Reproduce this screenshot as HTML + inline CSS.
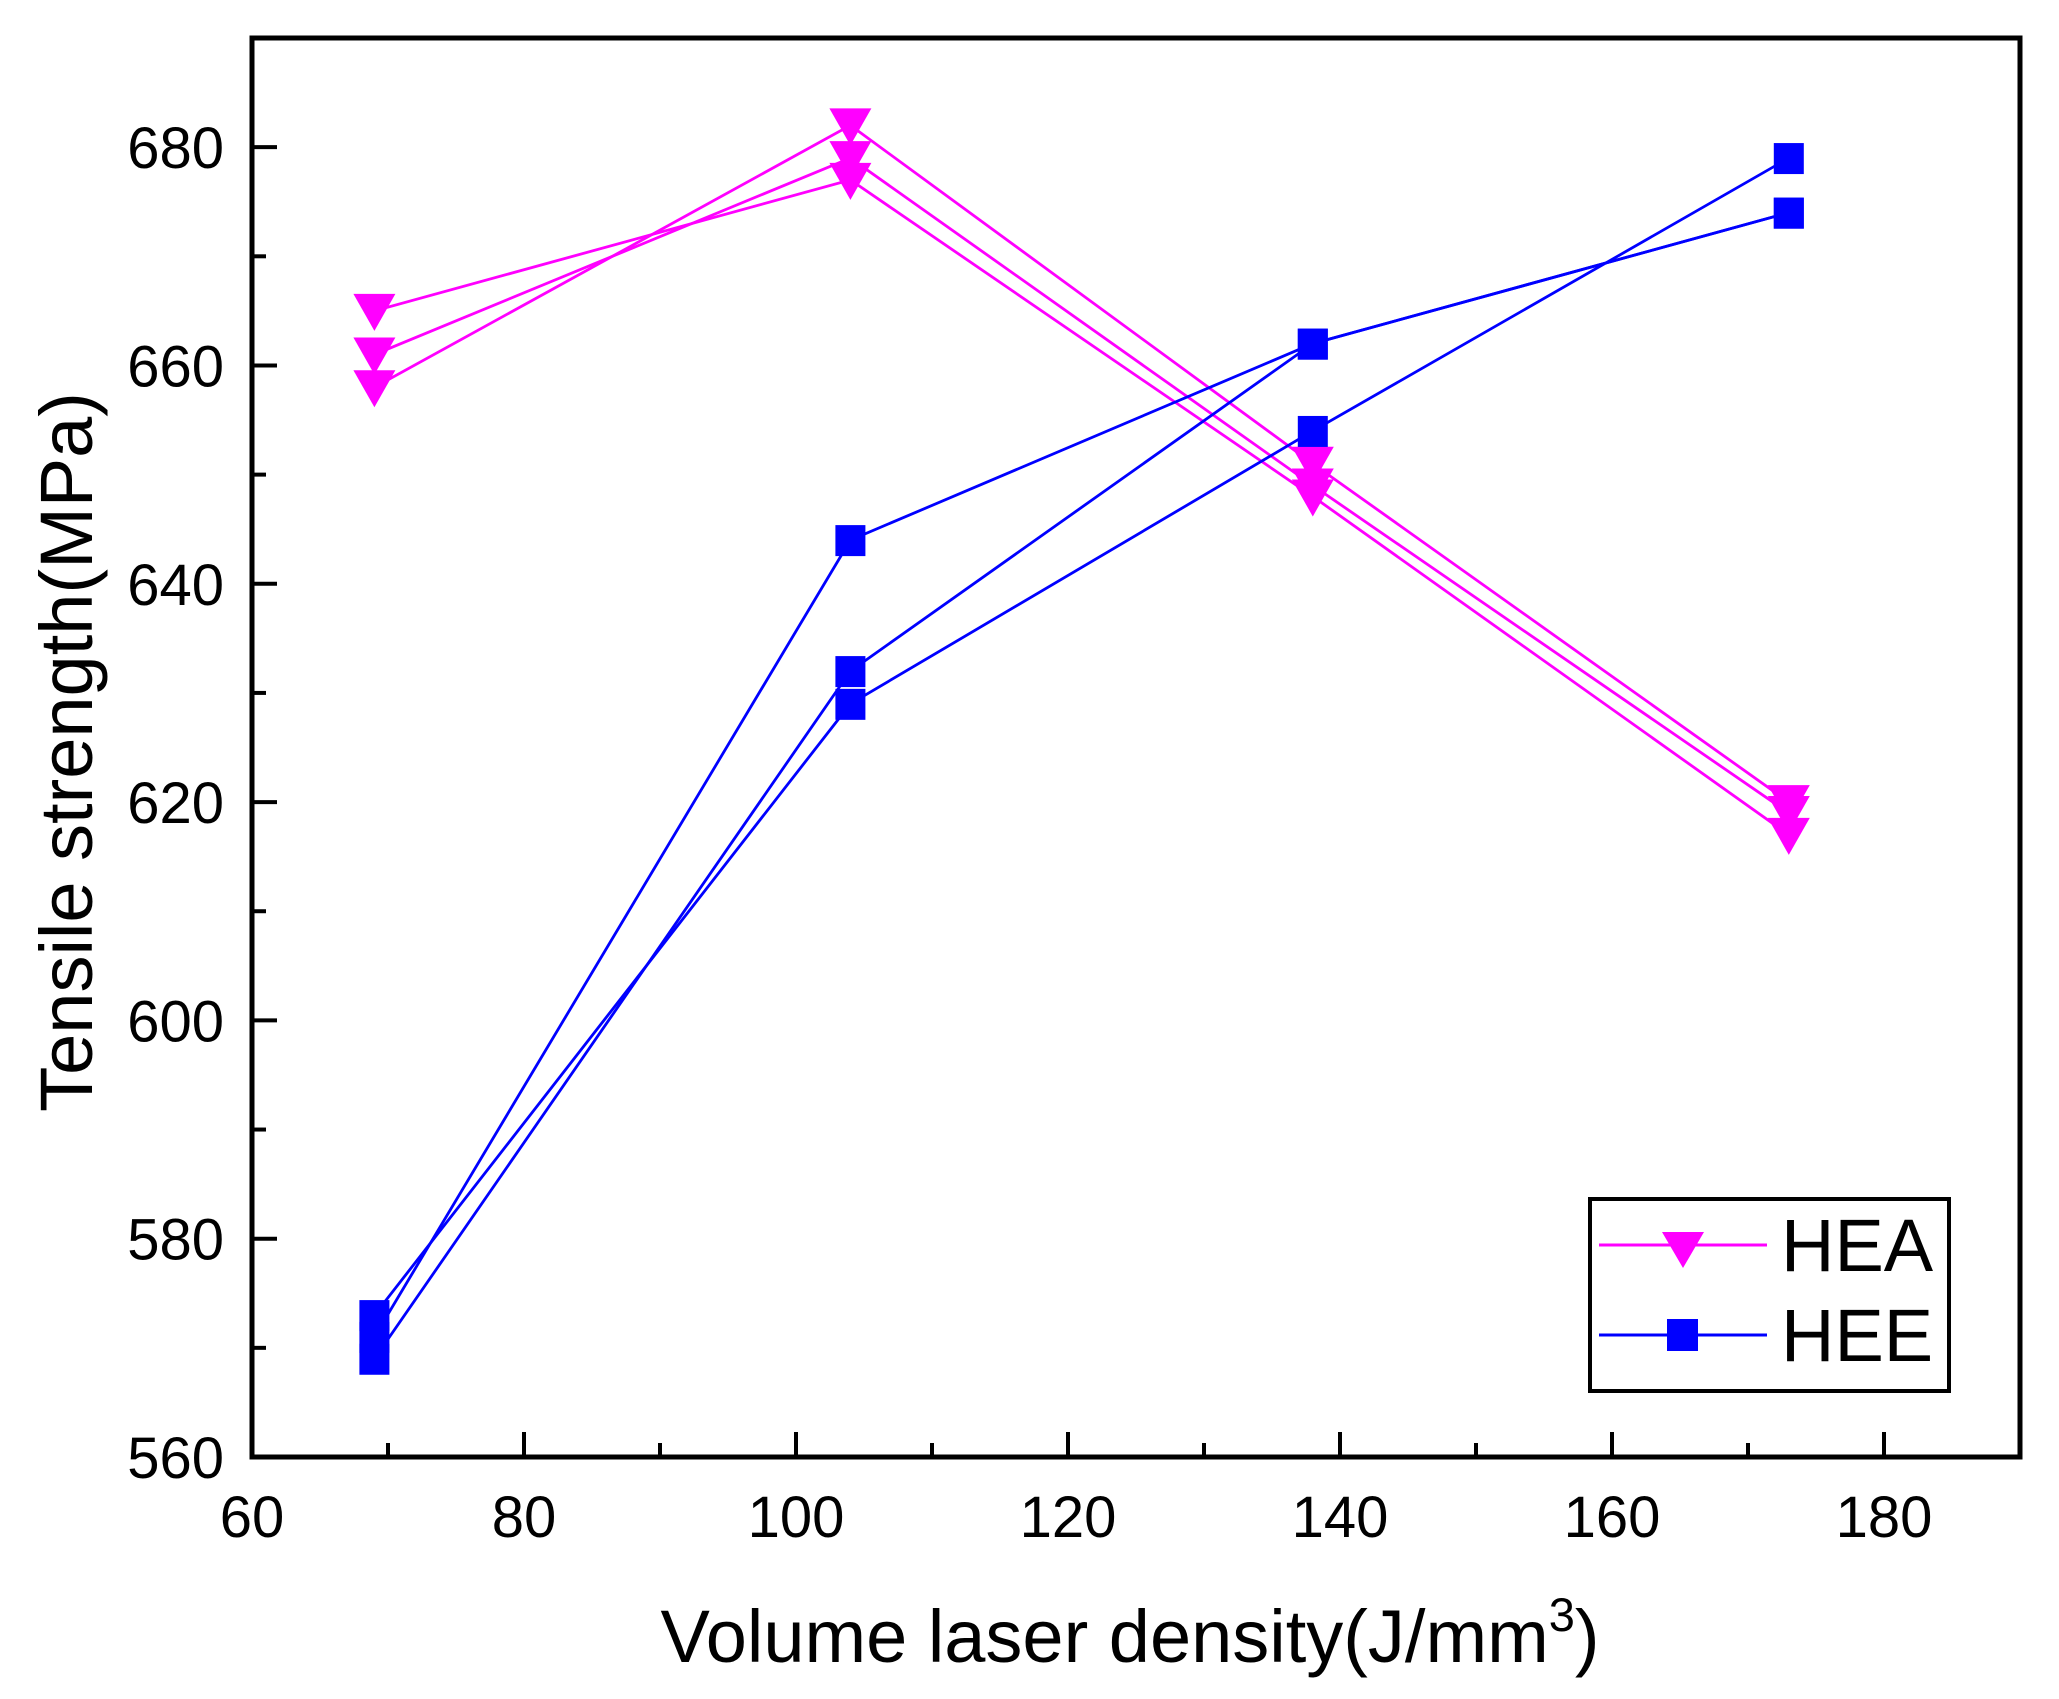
<!DOCTYPE html>
<html><head><meta charset="utf-8"><style>
html,body{margin:0;padding:0;background:#fff;}
svg{display:block;font-family:"Liberation Sans",Arial,sans-serif;}
</style></head><body>
<svg id="chart" width="2059" height="1699" viewBox="0 0 2059 1699">
<g id="axes"></g>
<g id="series"></g>
<rect x="252" y="38" width="1768" height="1419" fill="none" stroke="#000" stroke-width="5"/>
<text x="1130" y="1662" font-size="74" text-anchor="middle">Volume laser density(J/mm<tspan dy="-31" font-size="47">3</tspan><tspan dy="31">)</tspan></text>
<text transform="translate(92,752) rotate(-90)" font-size="74" text-anchor="middle">Tensile strength(MPa)</text>
<g transform="translate(-10,-5)">
<rect x="1600" y="1204" width="359" height="192" fill="#fff" stroke="#000" stroke-width="4"/>
<line x1="1609" y1="1250" x2="1777" y2="1250" stroke="#ff00ff" stroke-width="3"/>
<polygon points="1672,1237 1714,1237 1693,1273" fill="#ff00ff"/>
<text x="1791" y="1276" font-size="74">HEA</text>
<line x1="1609" y1="1340" x2="1777" y2="1340" stroke="#0000ff" stroke-width="3"/>
<rect x="1677" y="1324" width="31" height="32" fill="#0000ff"/>
<text x="1791" y="1366" font-size="74">HEE</text>
</g>
</svg>
<script>
const xTicks = [60, 80, 100, 120, 140, 160, 180];
const yTicks = [560, 580, 600, 620, 640, 660, 680];
const xValues = [69, 104, 138, 173];
const hea1 = [665, 677, 648, 617];
const hea2 = [661, 679, 649, 619];
const hea3 = [658, 682, 651, 620];
const hee1 = [571, 644, 662, 674];
const hee2 = [569, 632, 662, 674];
const hee3 = [573, 629, 654, 679];

const NS = 'http://www.w3.org/2000/svg';
const L = 252, R = 2020, T = 38, B = 1457;
function sx(v){ return L + (v - 60) / 130 * (R - L); }
function sy(v){ return B - (v - 560) / 130 * (B - T); }
function mk(tag, attrs, parent){
  const e = document.createElementNS(NS, tag);
  for (const k in attrs) e.setAttribute(k, attrs[k]);
  parent.appendChild(e);
  return e;
}
const axes = document.getElementById('axes');
const series = document.getElementById('series');

for (let v = 60; v <= 190; v += 10) {
  const major = v % 20 === 0;
  const len = major ? 25 : 14;
  const t = mk('line', {x1: sx(v), x2: sx(v), y1: B, y2: B - len, stroke: '#000', 'stroke-width': 4}, axes);
  
  
}
for (let v = 560; v <= 690; v += 10) {
  const major = v % 20 === 0;
  const len = major ? 25 : 14;
  const t = mk('line', {x1: L, x2: L + len, y1: sy(v), y2: sy(v), stroke: '#000', 'stroke-width': 4}, axes);
  
  
}
xTicks.forEach(v => {
  const t = mk('text', {x: sx(v), y: B + 80, 'font-size': 58, 'text-anchor': 'middle'}, axes);
  t.textContent = v;
  
  
});
yTicks.forEach(v => {
  const t = mk('text', {x: L - 28, y: sy(v) + 21, 'font-size': 58, 'text-anchor': 'end'}, axes);
  t.textContent = v;
  
  
});

function drawSeries(vals, color, type, name){
  const pts = vals.map((v, i) => sx(xValues[i]) + ',' + sy(v)).join(' ');
  const pl = mk('polyline', {points: pts, fill: 'none', stroke: color, 'stroke-width': 2.8}, series);
  
  
  vals.forEach((v, i) => {
    const x = sx(xValues[i]), y = sy(v);
    let m;
    if (type === 'tri') {
      m = mk('polygon', {points: (x-21)+','+(y-17)+' '+(x+21)+','+(y-17)+' '+x+','+(y+20), fill: color}, series);
    } else {
      m = mk('rect', {x: x - 15, y: y - 15, width: 30, height: 31, fill: color}, series);
    }
    
    
  });
}
drawSeries(hea1, '#ff00ff', 'tri', 'hea-1');
drawSeries(hea2, '#ff00ff', 'tri', 'hea-2');
drawSeries(hea3, '#ff00ff', 'tri', 'hea-3');
drawSeries(hee1, '#0000ff', 'sq', 'hee-1');
drawSeries(hee2, '#0000ff', 'sq', 'hee-2');
drawSeries(hee3, '#0000ff', 'sq', 'hee-3');
</script>
</body></html>
